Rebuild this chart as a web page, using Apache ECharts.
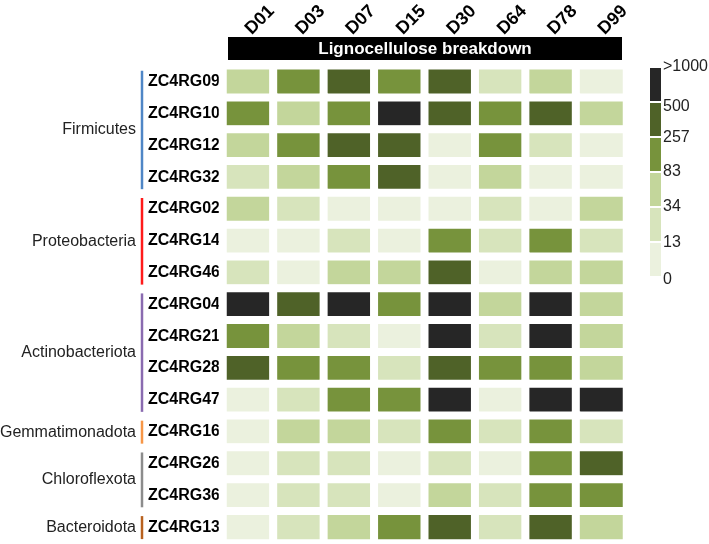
<!DOCTYPE html>
<html>
<head>
<meta charset="utf-8">
<script src="https://cdn.jsdelivr.net/npm/echarts@6/dist/echarts.min.js"></script>
<style>
html, body { margin: 0; padding: 0; background: #fff; }
#main { width: 709px; height: 544px; }
</style>
</head>
<body>
<div id="main"></div>
<script>
var days = ['D01', 'D03', 'D07', 'D15', 'D30', 'D64', 'D78', 'D99'];
var genomes = ['ZC4RG09', 'ZC4RG10', 'ZC4RG12', 'ZC4RG32', 'ZC4RG02', 'ZC4RG14', 'ZC4RG46',
               'ZC4RG04', 'ZC4RG21', 'ZC4RG28', 'ZC4RG47', 'ZC4RG16', 'ZC4RG26', 'ZC4RG36', 'ZC4RG13'];
var groupNames = ['Firmicutes', 'Proteobacteria', 'Actinobacteriota', 'Gemmatimonadota', 'Chloroflexota', 'Bacteroidota'];
var groupSizes = [4, 3, 4, 1, 2, 1];
var groupColors = ['#4f86c6', '#ff1a1a', '#8a6bb0', '#f79646', '#8c8c8c', '#b8611e'];
var legendLabels = ['>1000', '500', '257', '83', '34', '13', '0'];

// estimated abundance per genome (rows) and day (columns), read from the colour class
var values = [
    [55, 150, 400, 150, 400, 22, 55, 6],
    [150, 55, 150, 1200, 400, 150, 400, 55],
    [55, 150, 400, 400, 6, 150, 22, 6],
    [22, 55, 150, 400, 6, 55, 6, 6],
    [55, 22, 6, 6, 6, 22, 6, 55],
    [6, 6, 22, 6, 150, 22, 150, 22],
    [22, 6, 55, 55, 400, 6, 55, 55],
    [1200, 400, 1200, 150, 1200, 55, 1200, 55],
    [150, 55, 22, 6, 1200, 22, 1200, 55],
    [400, 150, 150, 22, 400, 150, 150, 55],
    [6, 22, 150, 150, 1200, 6, 1200, 1200],
    [6, 55, 55, 22, 150, 22, 150, 22],
    [6, 22, 22, 6, 22, 6, 150, 400],
    [6, 22, 22, 6, 55, 22, 150, 150],
    [6, 22, 55, 150, 400, 22, 400, 55]
];

var font = '"Liberation Sans", Arial, sans-serif';
var data = [];
values.forEach(function (row, r) {
    row.forEach(function (v, c) { data.push([c, r, v]); });
});

var myChart = echarts.init(document.getElementById('main'));

option = {
    animation: false,
    grid: { left: 223, right: 82.5, top: 63, bottom: 1 },
    xAxis: {
        type: 'category',
        position: 'top',
        data: days,
        axisLine: { show: false },
        axisTick: { show: false },
        splitLine: { show: false },
        axisLabel: {
            rotate: -45,
            margin: 34,
            color: '#000',
            fontWeight: 'bold',
            fontSize: 18,
            fontFamily: font
        }
    },
    yAxis: {
        type: 'category',
        inverse: true,
        data: genomes,
        axisLine: { show: false },
        axisTick: { show: false },
        splitLine: { show: false },
        axisLabel: {
            margin: 3,
            color: '#000',
            fontWeight: 'bold',
            fontSize: 16,
            fontFamily: font
        }
    },
    visualMap: {
        type: 'piecewise',
        orient: 'vertical',
        left: 635,
        top: 53,
        itemWidth: 11,
        itemHeight: 33,
        itemGap: 2,
        showLabel: false,
        itemSymbol: 'rect',
        selectedMode: false,
        pieces: [
            { min: 1000, color: '#262626' },
            { min: 257, max: 1000, color: '#4f6228' },
            { min: 83, max: 257, color: '#77933c' },
            { min: 34, max: 83, color: '#c3d69b' },
            { min: 13, max: 34, color: '#d7e4bc' },
            { min: 0, max: 13, color: '#ebf1de' }
        ]
    },
    series: [{
        type: 'heatmap',
        data: data,
        itemStyle: { borderColor: '#fff', borderWidth: 8 },
        emphasis: { disabled: true }
    }]
};

myChart.setOption(option);

// header bar, group brackets and legend boundary labels
var graphics = [
    { type: 'rect', shape: { x: 228, y: 37, width: 394, height: 23 }, style: { fill: '#000' } },
    { type: 'text', x: 425, y: 49, style: { text: 'Lignocellulose breakdown', font: 'bold 17px ' + font,
        fill: '#fff', align: 'center', verticalAlign: 'middle', textAlign: 'center', textVerticalAlign: 'middle' } }
];
var start = 0;
groupNames.forEach(function (name, i) {
    var y1 = myChart.convertToPixel({ yAxisIndex: 0 }, genomes[start]) - 11;
    var y2 = myChart.convertToPixel({ yAxisIndex: 0 }, genomes[start + groupSizes[i] - 1]) + 12;
    graphics.push({ type: 'line', shape: { x1: 142, y1: y1, x2: 142, y2: y2 },
        style: { stroke: groupColors[i], lineWidth: 2.5 } });
    graphics.push({ type: 'text', x: 136, y: (y1 + y2) / 2, style: { text: name, font: '16px ' + font,
        fill: '#222', align: 'right', verticalAlign: 'middle', textAlign: 'right', textVerticalAlign: 'middle' } });
    start += groupSizes[i];
});
var labelY = [67, 107, 138, 172, 207, 243, 280];
legendLabels.forEach(function (t, i) {
    graphics.push({ type: 'text', x: 663, y: labelY[i], style: { text: t, font: '16px ' + font,
        fill: '#222', align: 'left', verticalAlign: 'middle', textAlign: 'left', textVerticalAlign: 'middle' } });
});
myChart.setOption({ graphic: graphics });
</script>
</body>
</html>
